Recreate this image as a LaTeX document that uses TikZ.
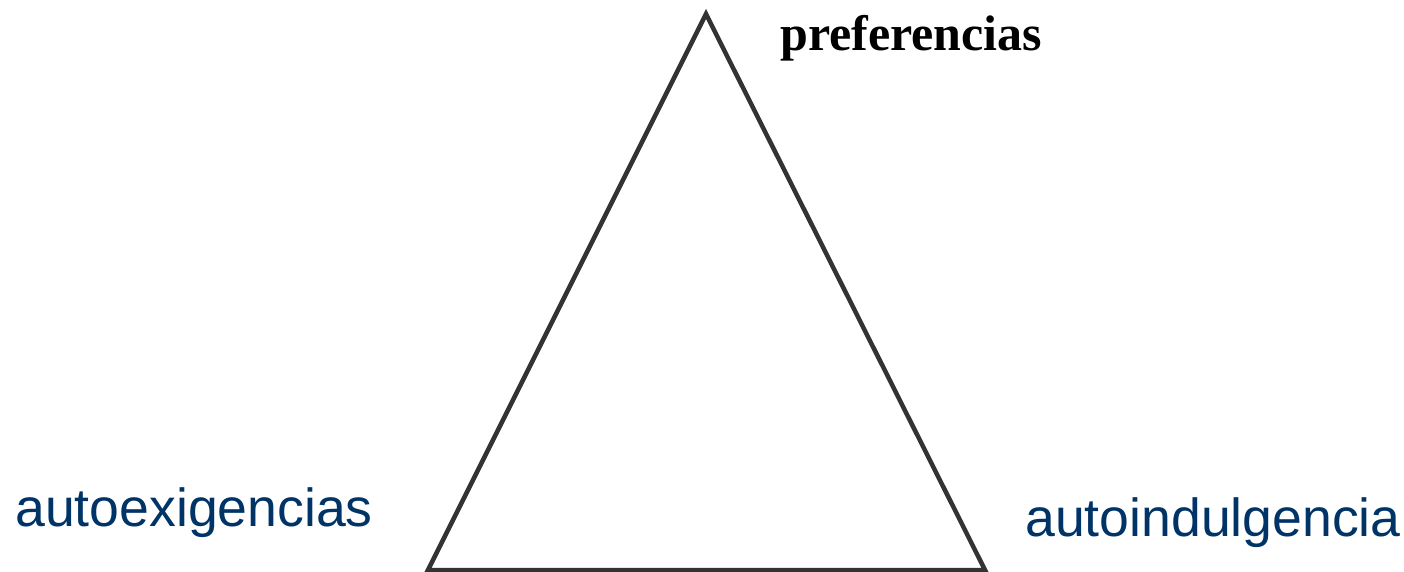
\documentclass[tikz,border=0pt]{standalone}
\usepackage{fontspec}
\setmainfont{Liberation Serif}
\newfontfamily\arialfont{Liberation Sans}
\definecolor{lblblue}{RGB}{0,51,102}
\definecolor{linegray}{RGB}{51,51,51}
\begin{document}
\begin{tikzpicture}[x=1pt,y=-1pt,
  sanslbl/.style={inner sep=0pt,anchor=base west,text=lblblue,font=\arialfont\fontsize{53.6}{60}\selectfont},
  seriflbl/.style={inner sep=0pt,anchor=base west,text=black,font=\bfseries\fontsize{50}{56}\selectfont},
  edge/.style={draw=linegray,line width=4.5pt,line join=miter}]
\useasboundingbox (0,0) rectangle (1404,571);
\coordinate (top) at (706,14);
\coordinate (bl) at (428,570);
\coordinate (br) at (985,570);
\draw[edge] (bl) -- (top) -- (br) -- cycle;
\node[seriflbl] (pref) at (780,50) {preferencias};
\node[sanslbl] (auex) at (15,526) {autoexigencias};
\node[sanslbl] (auin) at (1025,536) {autoindulgencia};
\end{tikzpicture}
\end{document}
